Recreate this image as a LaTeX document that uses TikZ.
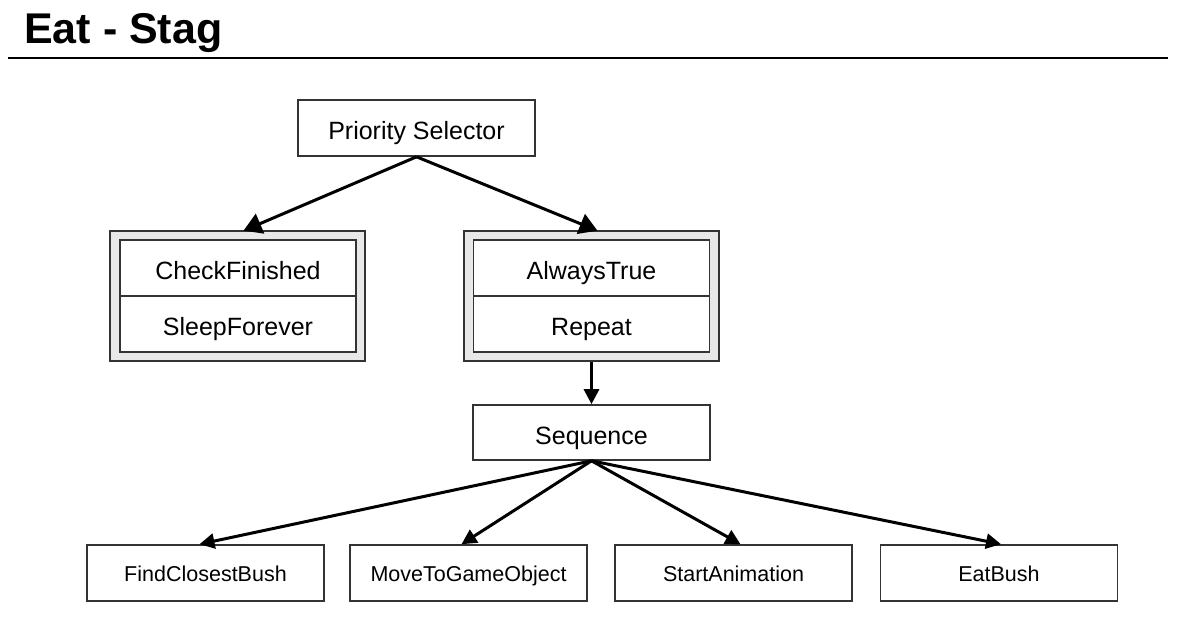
\documentclass[tikz,border=0pt]{standalone}
\usepackage{fontspec}
\setmainfont{Liberation Sans}
\usetikzlibrary{arrows.meta,calc}
\definecolor{bd}{HTML}{333333}
\definecolor{deco}{HTML}{E8E8E8}
\begin{document}
\begin{tikzpicture}[x=1pt,y=-1pt,
  box/.style={draw=bd,line width=1.6pt,fill=white,inner sep=0pt,minimum width=237pt,minimum height=56pt,text height=23pt,text depth=0pt,font=\fontsize{25}{29}\selectfont},
  smallbox/.style={box,text height=16pt,font=\fontsize{21.5}{25}\selectfont},
  inbox/.style={box,minimum width=236pt},
  decobox/.style={draw=bd,line width=1.6pt,fill=deco,inner sep=0pt,minimum width=255pt,minimum height=130pt},
  arr/.style={line width=3pt,-{Triangle[length=18pt,width=21pt]}},
  arrs/.style={line width=3pt,-{Triangle[length=15pt,width=15pt]}}]
\useasboundingbox (0,0) rectangle (1177,627);
\fill[white] (0,0) rectangle (1177,627);
% title
\node[anchor=base west,inner sep=0pt,font=\fontsize{43}{49}\selectfont\bfseries] (title) at (24,43) {Eat - Stag};
\coordinate (l1) at (8,58.3);
\coordinate (l2) at (1168,58.3);
\draw[line width=1.8pt] (l1) -- (l2);
% nodes
\node[box] (ps) at (416.5,128) {Priority Selector};
\node[decobox] (cfo) at (237.5,296) {};
\node[inbox] (cf1) at (238,268) {CheckFinished};
\node[inbox] (cf2) at (238,324) {SleepForever};
\node[decobox] (ato) at (591.5,296) {};
\node[inbox] (at1) at (591.5,268) {AlwaysTrue};
\node[inbox] (at2) at (591.5,324) {Repeat};
\node[box,minimum height=55pt] (seq) at (591.5,432.5) {Sequence};
\node[smallbox] (b1) at (205.5,573) {FindClosestBush};
\node[smallbox] (b2) at (468.5,573) {MoveToGameObject};
\node[smallbox] (b3) at (733.5,573) {StartAnimation};
\node[smallbox] (b4) at (999,573) {EatBush};
% connectors
\draw[arr] (ps.south) -- ($(cfo.north)+(6,0.5)$);
\draw[arr] (ps.south) -- ($(ato.north)+(6,0.5)$);
\draw[arrs] (ato.south) -- (seq.north);
\draw[arrs] (seq.south) -- ($(b1.north)+(-6,0)$);
\draw[arrs] (seq.south) -- ($(b2.north)+(-7,0)$);
\draw[arrs] (seq.south) -- ($(b3.north)+(7,0)$);
\draw[arrs] (seq.south) -- ($(b4.north)+(2,0)$);
\end{tikzpicture}
\end{document}
